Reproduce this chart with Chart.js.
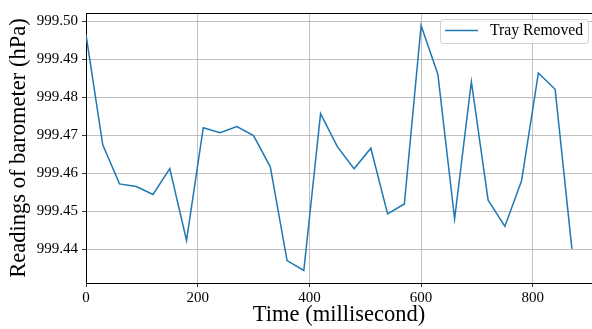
<!DOCTYPE html>
<html>
<head>
<meta charset="utf-8">
<script src="https://cdn.jsdelivr.net/npm/chart.js@4"></script>
<style>
  body { margin: 0; background: #fff; }
  canvas { display: block; }
</style>
</head>
<body>
<canvas id="myChart" width="592" height="329"></canvas>
<script>
var times = [0, 30, 60, 90, 120, 150, 180, 210, 240, 270, 300, 330, 360, 390, 420,
  450, 480, 510, 540, 570, 600, 630, 660, 690, 720, 750, 780, 810, 840, 870];
var readings = [999.4965, 999.4675, 999.4572, 999.4565, 999.4544, 999.4612, 999.4423,
  999.4720, 999.4707, 999.4723, 999.4699, 999.4617, 999.4370, 999.4344, 999.4757,
  999.4670, 999.4612, 999.4666, 999.4493, 999.4519, 999.4989, 999.4861, 999.4480,
  999.4841, 999.4529, 999.4460, 999.4581, 999.4864, 999.4821, 999.4401];
var xTicks = [0, 200, 400, 600, 800];
var yTicks = [999.44, 999.45, 999.46, 999.47, 999.48, 999.49, 999.50];
var seriesLabel = "Tray Removed";

var serif = "'Liberation Serif', 'DejaVu Serif', serif";

// top spine + legend box like matplotlib
var extras = {
  id: "extras",
  afterDraw: function(chart) {
    var ctx = chart.ctx;
    var a = chart.chartArea;
    ctx.save();
    ctx.strokeStyle = "#000";
    ctx.lineWidth = 1;
    ctx.beginPath();
    ctx.moveTo(a.left, a.top + 0.5);
    ctx.lineTo(a.right, a.top + 0.5);
    ctx.stroke();

    var bx = 440.5, by = 19.5, bw = 148, bh = 24, r = 3;
    ctx.fillStyle = "rgba(255,255,255,0.8)";
    ctx.strokeStyle = "#d0d0d0";
    ctx.beginPath();
    ctx.roundRect(bx, by, bw, bh, r);
    ctx.fill();
    ctx.stroke();

    ctx.strokeStyle = "#1f77b4";
    ctx.lineWidth = 1.5;
    ctx.beginPath();
    ctx.moveTo(445, 30.5);
    ctx.lineTo(478, 30.5);
    ctx.stroke();

    ctx.fillStyle = "#000";
    ctx.font = "15.7px " + serif;
    ctx.textBaseline = "middle";
    ctx.fillText(seriesLabel, 490, 31);
    ctx.restore();
  }
};

var points = times.map(function(t, i) { return { x: t, y: readings[i] }; });

new Chart(document.getElementById("myChart"), {
  type: "line",
  data: {
    datasets: [{
      label: seriesLabel,
      data: points,
      borderColor: "#1f77b4",
      borderWidth: 1.5,
      pointRadius: 0,
      tension: 0,
      fill: false
    }]
  },
  options: {
    responsive: false,
    animation: false,
    layout: { padding: { top: 10, right: 0, left: 0, bottom: 0 } },
    plugins: {
      legend: { display: false },
      tooltip: { enabled: false }
    },
    scales: {
      x: {
        type: "linear",
        min: 0,
        max: 906,
        afterBuildTicks: function(s) { s.ticks = xTicks.map(function(v) { return { value: v }; }); },
        afterFit: function(s) { s.height = 46; },
        grid: { color: "#b0b0b0", lineWidth: 0.8, tickColor: "#000", tickLength: 4 },
        border: { color: "#000", width: 1 },
        ticks: { color: "#000", font: { family: serif, size: 15 }, padding: 2, maxRotation: 0 },
        title: { display: true, text: "Time (millisecond)", color: "#000",
          font: { family: serif, size: 22.5 }, padding: { top: 0, bottom: 0 } }
      },
      y: {
        min: 999.4311,
        max: 999.5022,
        afterBuildTicks: function(s) { s.ticks = yTicks.map(function(v) { return { value: v }; }); },
        afterFit: function(s) { s.width = 86; },
        grid: { color: "#b0b0b0", lineWidth: 0.8, tickColor: "#000", tickLength: 4 },
        border: { color: "#000", width: 1 },
        ticks: { color: "#000", font: { family: serif, size: 15 }, padding: 4,
          callback: function(v) { return v.toFixed(2); } },
        title: { display: true, text: "Readings of barometer (hPa)", color: "#000",
          font: { family: serif, size: 22.5 }, padding: { top: 5.5, bottom: 0 } }
      }
    }
  },
  plugins: [extras]
});
</script>
</body>
</html>
